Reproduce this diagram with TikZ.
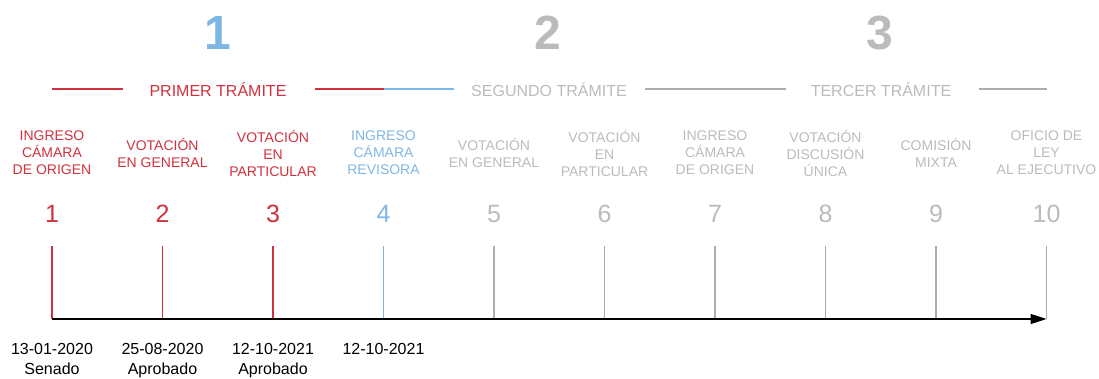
\documentclass[tikz,border=0pt]{standalone}
\usepackage{fontspec}
\setmainfont{Liberation Sans}
\usetikzlibrary{arrows.meta}
\definecolor{cred}{HTML}{D0313D}
\definecolor{cblue}{HTML}{7FB7E4}
\definecolor{cgray}{HTML}{BBBBBB}
\definecolor{lgray}{HTML}{ADADAD}
\begin{document}
\begin{tikzpicture}[x=1pt,y=-1pt,
  lbl/.style={align=center,inner sep=0pt,font=\fontsize{14}{17}\selectfont},
  num/.style={inner sep=0pt,font=\fontsize{25}{25}\selectfont},
  big/.style={inner sep=0pt,font=\fontsize{48}{48}\selectfont\bfseries},
  hdr/.style={inner sep=0pt,font=\fontsize{16}{16}\selectfont},
  datelbl/.style={align=center,inner sep=0pt,anchor=north,font=\fontsize{16}{20}\selectfont},
  tickline/.style={line width=1.6pt},
  hline/.style={line width=1.8pt}]
\useasboundingbox (0,0) rectangle (1099,379);
% big numbers
\node[big,text=cblue] (big1) at (218,33) {1};
\node[big,text=cgray] (big2) at (548,33) {2};
\node[big,text=cgray] (big3) at (880,33) {3};
% headers
\node[hdr,text=cred] (hdr1) at (218,90) {PRIMER TRÁMITE};
\node[hdr,text=cgray] (hdr2) at (549,90) {SEGUNDO TRÁMITE};
\node[hdr,text=cgray] (hdr3) at (881,90) {TERCER TRÁMITE};
\coordinate (ha) at (52,89);
\coordinate (hb) at (123,89);
\coordinate (hc) at (315,89);
\coordinate (hd) at (384,89);
\coordinate (he) at (454,89);
\coordinate (hf) at (645,89);
\coordinate (hg) at (786,89);
\coordinate (hh) at (979,89);
\coordinate (hi) at (1047,89);
\draw[hline,cred] (ha) -- (hb);
\draw[hline,cred] (hc) -- (hd);
\draw[hline,cblue] (hd) -- (he);
\draw[hline,lgray] (hf) -- (hg);
\draw[hline,lgray] (hh) -- (hi);
% labels
\node[lbl,text=cred] (l1) at (52,153) {INGRESO\\CÁMARA\\DE ORIGEN};
\node[lbl,text=cred] (l2) at (162.5,153) {VOTACIÓN\\EN GENERAL};
\node[lbl,text=cred] (l3) at (273,153) {VOTACIÓN\\EN\\PARTICULAR};
\node[lbl,text=cblue] (l4) at (383.5,153) {INGRESO\\CÁMARA\\REVISORA};
\node[lbl,text=cgray] (l5) at (494,153) {VOTACIÓN\\EN GENERAL};
\node[lbl,text=cgray] (l6) at (604.5,153) {VOTACIÓN\\EN\\PARTICULAR};
\node[lbl,text=cgray] (l7) at (715,153) {INGRESO\\CÁMARA\\DE ORIGEN};
\node[lbl,text=cgray] (l8) at (825.5,153) {VOTACIÓN\\DISCUSIÓN\\ÚNICA};
\node[lbl,text=cgray] (l9) at (936,153) {COMISIÓN\\MIXTA};
\node[lbl,text=cgray] (l10) at (1046.5,153) {OFICIO DE\\LEY\\AL EJECUTIVO};
% numbers and ticks
\foreach \i/\c in {1/cred,2/cred,3/cred,4/cblue,5/cgray,6/cgray,7/cgray,8/cgray,9/cgray,10/cgray}{
  \pgfmathsetmacro{\xx}{52+110.5*(\i-1)}
  \node[num,text=\c] (n\i) at (\xx,214) {\i};
  \coordinate (t\i) at (\xx,246);
  \coordinate (b\i) at (\xx,319);
}
\foreach \i/\c in {1/cred,2/cred,3/cred,4/cblue,5/lgray,6/lgray,7/lgray,8/lgray,9/lgray,10/lgray}{
  \draw[tickline,\c] (t\i) -- (b\i);
}
% axis
\draw[line width=1.6pt,black,-{Triangle[length=16pt,width=10pt]}] (b1) -- (b10);
% dates
\node[datelbl] (d1) at (52,343) {13-01-2020\\Senado};
\node[datelbl] (d2) at (162.5,343) {25-08-2020\\Aprobado};
\node[datelbl] (d3) at (273,343) {12-10-2021\\Aprobado};
\node[datelbl] (d4) at (383.5,343) {12-10-2021};
\end{tikzpicture}
\end{document}
